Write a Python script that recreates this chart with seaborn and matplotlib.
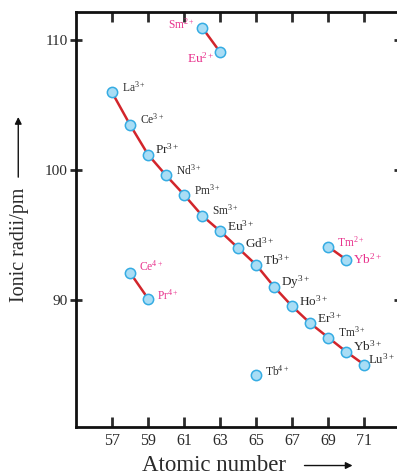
import pandas as pd
import matplotlib.pyplot as plt
import seaborn as sns

# ionic radii (pm)
z_3plus = [57, 58, 59, 60, 61, 62, 63, 64, 65, 66, 67, 68, 69, 70, 71]
r_3plus = [106.0, 103.5, 101.2, 99.6, 98.1, 96.5, 95.3, 94.0, 92.7, 91.0, 89.5, 88.2, 87.1, 86.0, 85.0]
ions_3plus = ['La', 'Ce', 'Pr', 'Nd', 'Pm', 'Sm', 'Eu', 'Gd', 'Tb', 'Dy', 'Ho', 'Er', 'Tm', 'Yb', 'Lu']

z_other = [62, 63, 69, 70, 58, 59, 65]
r_other = [111.0, 109.1, 94.1, 93.1, 92.1, 90.1, 84.2]
ions_other = ['Sm', 'Eu', 'Tm', 'Yb', 'Ce', 'Pr', 'Tb']
charge_other = ['2+', '2+', '2+', '2+', '4+', '4+', '4+']
group_other = ['sm_eu', 'sm_eu', 'tm_yb', 'tm_yb', 'ce_pr', 'ce_pr', 'tb']

x_ticks = [57, 59, 61, 63, 65, 67, 69, 71]
y_ticks = [90, 100, 110]

RED = '#d2252b'
FACE = '#a9ddf5'
EDGE = '#35ace3'
MAGENTA = '#e8318c'
TEXT = '#2b2b2b'

df3 = pd.DataFrame({'z': z_3plus, 'r': r_3plus, 'group': 'main'})
dfo = pd.DataFrame({'z': z_other, 'r': r_other, 'group': group_other})
df = pd.concat([df3, dfo], ignore_index=True)

sns.set_style('ticks')
plt.rcParams['font.family'] = ['Liberation Serif', 'DejaVu Serif']
plt.rcParams['mathtext.fontset'] = 'custom'
plt.rcParams['mathtext.rm'] = 'Liberation Serif'
plt.rcParams['mathtext.it'] = 'Liberation Serif'

fig = plt.figure(figsize=(3.97, 4.76), dpi=100)
ax = fig.add_axes([0.1914, 0.1029, 0.817, 0.872])

lines = df[df['group'] != 'tb']
sns.lineplot(data=lines, x='z', y='r', units='group', estimator=None,
             color=RED, lw=1.8, ax=ax, legend=False, zorder=2)
sns.scatterplot(data=df, x='z', y='r', s=55, color=FACE, edgecolor=EDGE,
                linewidth=1.1, ax=ax, legend=False, zorder=3)

# labels for the 3+ ions (small vs. larger type as in the figure)
big = {'Pr', 'Eu', 'Gd', 'Tb', 'Dy', 'Ho', 'Er', 'Yb', 'Lu'}
for z, r, ion in zip(z_3plus, r_3plus, ions_3plus):
    if ion == 'Lu':
        fs, off = 9.3, (4, 5)
    elif ion in big:
        fs, off = 9.5, (7, 5)
    else:
        fs, off = 8.3, (10, 5)
    ax.annotate(ion + r'$^{3+}$', (z, r), xytext=off, textcoords='offset pixels',
                ha='left', va='center', fontsize=fs, color=TEXT)

other_offsets = [(-7, 3), (-5, -6), (9, 4), (7, 0), (9, 6), (9, 3), (9, 4)]
other_sizes = [8.3, 9.5, 8.3, 9.5, 8.3, 8.3, 8.3]
for z, r, ion, ch, off, fs in zip(z_other, r_other, ions_other, charge_other,
                                  other_offsets, other_sizes):
    color = MAGENTA if ion != 'Tb' else TEXT
    ax.annotate(ion + r'$^{' + ch + '}$', (z, r), xytext=off, textcoords='offset pixels',
                ha='right' if off[0] < 0 else 'left', va='center', fontsize=fs, color=color)

ax.set_xlim(55, 73)
ax.set_ylim(80.2, 112.2)
ax.set_xticks(x_ticks)
ax.set_yticks(y_ticks)
ax.set_xlabel('')
ax.set_ylabel('')
ax.tick_params(axis='x', direction='in', length=7, width=2, top=True, labelsize=11.5,
               colors=TEXT, pad=4)
ax.tick_params(axis='y', direction='inout', length=8, width=2, right=True, labelsize=11,
               colors=TEXT, pad=2)
for side in ['left', 'bottom', 'top']:
    ax.spines[side].set_linewidth(2)
    ax.spines[side].set_color('#111111')
ax.spines['right'].set_visible(False)

fig.text(0.54, 0.001, 'Atomic number', ha='center', va='bottom', fontsize=16.5, color=TEXT)
fig.text(0.048, 0.485, 'Ionic radii/pm', ha='center', va='center', rotation=90,
         fontsize=14.5, color=TEXT)
ax.annotate('', xy=(0.895, 0.022), xytext=(0.76, 0.022), xycoords='figure fraction',
            arrowprops=dict(arrowstyle='-|>', color='#111111', lw=1, mutation_scale=10))
ax.annotate('', xy=(0.046, 0.76), xytext=(0.046, 0.622), xycoords='figure fraction',
            arrowprops=dict(arrowstyle='-|>', color='#111111', lw=1, mutation_scale=10))

fig.savefig('out.png', dpi=100)
